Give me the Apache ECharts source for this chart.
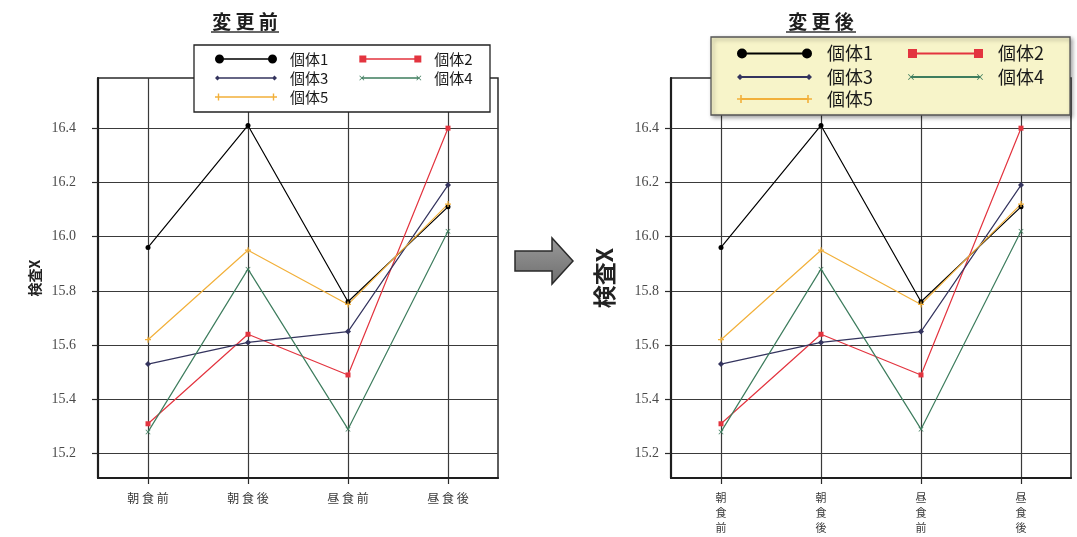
<!DOCTYPE html>
<html>
<head>
<meta charset="utf-8">
<script src="https://cdn.jsdelivr.net/npm/echarts@6/dist/echarts.min.js"></script>
<style>
  html, body { margin: 0; padding: 0; background: #ffffff; }
  #chart { width: 1077px; height: 537px; }
</style>
</head>
<body>
<div id="chart"></div>
<script>
// measurement points and individuals
const categories = ['朝食前', '朝食後', '昼食前', '昼食後'];
const seriesNames = ['個体1', '個体2', '個体3', '個体4', '個体5'];
const values1 = [15.96, 16.41, 15.76, 16.11];
const values2 = [15.31, 15.64, 15.49, 16.40];
const values3 = [15.53, 15.61, 15.65, 16.19];
const values4 = [15.28, 15.88, 15.29, 16.02];
const values5 = [15.62, 15.95, 15.75, 16.12];
const yTicks = [15.2, 15.4, 15.6, 15.8, 16.0, 16.2, 16.4];
const yMin = 15.11;
const yMax = 16.585;
const panelTitles = ['変 更 前', '変 更 後'];
const axisTitle = '検査X';

const allValues = [values1, values2, values3, values4, values5];
const colors = ['#000000', '#e3343f', '#34345e', '#3e7d5e', '#f2b03a'];
const markerKinds = ['circle', 'square', 'diamond', 'cross', 'plus'];
const CJK = '"Noto Sans CJK JP", "Noto Sans CJK SC", sans-serif';
const SERIF = '"Liberation Serif", "Times New Roman", "DejaVu Serif", serif';

// ---- marker / legend icon geometry (all sub-paths clockwise so they union) ----
function circleSub(cx, cy, r) {
  return `M${cx - r} ${cy} A${r} ${r} 0 1 1 ${cx + r} ${cy} A${r} ${r} 0 1 1 ${cx - r} ${cy} Z`;
}
function scaledUnit(points, cx, cy, s) {
  // points in a 10x10 unit box
  return 'M' + points.map(p => `${cx + (p[0] - 5) * s / 10} ${cy + (p[1] - 5) * s / 10}`).join(' L') + ' Z';
}
const CROSS_PTS = [[0,1],[1,0],[5,4],[9,0],[10,1],[6,5],[10,9],[9,10],[5,6],[1,10],[0,9],[4,5]];
const PLUS_PTS = [[4,0],[6,0],[6,4],[10,4],[10,6],[6,6],[6,10],[4,10],[4,6],[0,6],[0,4],[4,4]];
function markerSub(kind, cx, cy, s) {
  const h = s / 2;
  switch (kind) {
    case 'circle': return circleSub(cx, cy, h);
    case 'square': return `M${cx - h} ${cy - h} L${cx + h} ${cy - h} L${cx + h} ${cy + h} L${cx - h} ${cy + h} Z`;
    case 'diamond': return `M${cx} ${cy - h} L${cx + h} ${cy} L${cx} ${cy + h} L${cx - h} ${cy} Z`;
    case 'cross': return scaledUnit(CROSS_PTS, cx, cy, s);
    case 'plus': return scaledUnit(PLUS_PTS, cx, cy, s);
  }
}
// legend icon: line with a marker at each end, box W x H, line spanning 0..len
function legendIcon(kind, W, H, len, s, lw) {
  const cy = H / 2;
  const x0 = s / 2, x1 = len - s / 2;
  let d = `M0 0 M${W} ${H} `;
  d += `M${x0} ${cy - lw / 2} L${x1} ${cy - lw / 2} L${x1} ${cy + lw / 2} L${x0} ${cy + lw / 2} Z `;
  d += markerSub(kind, x0, cy, s) + ' ' + markerSub(kind, x1, cy, s);
  return 'path://' + d;
}
// plot symbols
const plotSymbols = [
  'circle', 'rect', 'diamond',
  'path://' + scaledUnit(CROSS_PTS, 5, 5, 10),
  'path://' + scaledUnit(PLUS_PTS, 5, 5, 10)
];
const plotSymbolSizes = [5, 5, 6, 5, 6];

// ---- panel layout ----
const panels = [
  {
    gridLeft: 98, yLabelMargin: 22, nameGap: 56, nameSize: 14, vertical: false,
    legend: { rows: [[0, 1], [2, 3], [4]], left: 215, tops: [51.5, 70.5, 89.5], W: 70, H: 12, len: 62,
      sizes: [9, 7, 5, 5, 7], lw: 1.4, font: 15, textWidth: 45, gap: 31 },
    box: { x: 194, y: 45, w: 296, h: 67, fill: '#ffffff', stroke: '#222222', shadow: 0 },
    title: { x: 245, line: [211, 279] }
  },
  {
    gridLeft: 671, yLabelMargin: 12, nameGap: 55, nameSize: 23, vertical: true,
    legend: { rows: [[0, 1], [2, 3], [4]], left: 737, tops: [44.5, 68, 90], W: 85, H: 14, len: 75,
      sizes: [10, 9, 6, 6, 8], lw: 2, font: 18, textWidth: 56, gap: 35 },
    box: { x: 711, y: 37, w: 359, h: 78, fill: '#f7f4c9', stroke: '#555555', shadow: 4 },
    title: { x: 821, line: [786, 856] }
  }
];

const option = {
  animation: false,
  backgroundColor: '#ffffff',
  grid: [], xAxis: [], yAxis: [], series: [], legend: [], graphic: []
};

panels.forEach((p, pi) => {
  option.grid.push({
    left: p.gridLeft, top: 78, width: 400, height: 400,
    show: true, borderColor: '#2a2a2a', borderWidth: 1.5, backgroundColor: 'transparent',
    outerBoundsMode: 'none', containLabel: false
  });
  option.xAxis.push({
    type: 'category', gridIndex: pi, data: categories, boundaryGap: true,
    axisLine: { show: true, lineStyle: { color: '#1e1e1e', width: 2.2 } },
    axisTick: { show: true, alignWithLabel: true, length: 6, lineStyle: { color: '#2a2a2a', width: 1.2 } },
    splitLine: { show: true, alignWithLabel: true, lineStyle: { color: '#3a3a3a', width: 1.2 } },
    axisLabel: {
      interval: 0, margin: p.vertical ? 12 : 13,
      fontFamily: CJK, fontSize: p.vertical ? 11 : 12, color: '#3a3a3a',
      lineHeight: p.vertical ? 15 : 14,
      formatter: v => p.vertical ? v.split('').join('\n') : v.split('').join(' ')
    }
  });
  option.yAxis.push({
    type: 'value', gridIndex: pi, min: yMin, max: yMax,
    axisLine: { show: true, lineStyle: { color: '#1e1e1e', width: 2.2 } },
    axisTick: { show: true, customValues: yTicks, length: 6, lineStyle: { color: '#2a2a2a', width: 1.2 } },
    splitLine: { show: true, lineStyle: { color: '#3a3a3a', width: 1.2 } },
    axisLabel: {
      customValues: yTicks, margin: p.yLabelMargin,
      fontFamily: SERIF, fontSize: 14, color: '#4a4a4a',
      formatter: v => Number(v).toFixed(1)
    },
    name: axisTitle, nameLocation: 'middle', nameRotate: 90, nameGap: p.nameGap,
    nameTextStyle: { fontFamily: CJK, fontSize: p.nameSize, fontWeight: 'bold', color: '#222222' }
  });
  allValues.forEach((vals, si) => {
    option.series.push({
      type: 'line', name: seriesNames[si], xAxisIndex: pi, yAxisIndex: pi, data: vals,
      symbol: plotSymbols[si], symbolSize: plotSymbolSizes[si], showSymbol: true,
      color: colors[si],
      lineStyle: { color: colors[si], width: 1.2 },
      itemStyle: { color: colors[si], borderWidth: 0 },
      z: 2
    });
  });
  // legend rows
  const L = p.legend;
  L.rows.forEach((row, ri) => {
    option.legend.push({
      orient: 'horizontal', left: L.left, top: L.tops[ri], padding: 0,
      itemWidth: L.W, itemHeight: L.H, itemGap: L.gap, symbolKeepAspect: true,
      data: row.map(si => ({
        name: seriesNames[si],
        icon: legendIcon(markerKinds[si], L.W, L.H, L.len, L.sizes[si], L.lw)
      })),
      itemStyle: { borderWidth: 0 },
      textStyle: { fontFamily: CJK, fontSize: L.font, color: '#1a1a1a', width: L.textWidth },
      selectedMode: false, z: 6
    });
  });
  // legend frame, title and underline
  option.graphic.push({
    type: 'rect', z: 5, silent: true,
    shape: { x: p.box.x, y: p.box.y, width: p.box.w, height: p.box.h },
    style: {
      fill: p.box.fill, stroke: p.box.stroke, lineWidth: 1.3,
      shadowBlur: p.box.shadow, shadowColor: 'rgba(0,0,0,0.35)',
      shadowOffsetX: p.box.shadow ? 2 : 0, shadowOffsetY: p.box.shadow ? 2 : 0
    }
  });
  option.graphic.push({
    type: 'text', z: 5, silent: true, x: p.title.x, y: 22,
    style: {
      text: panelTitles[pi], font: `bold 19px ${CJK}`, fill: '#1e1e1e',
      textAlign: 'center', textVerticalAlign: 'middle'
    }
  });
  option.graphic.push({
    type: 'line', z: 5, silent: true,
    shape: { x1: p.title.line[0], y1: 32, x2: p.title.line[1], y2: 32 },
    style: { stroke: '#333333', lineWidth: 1.5 }
  });
});

// block arrow between the panels
option.graphic.push({
  type: 'polygon', z: 5, silent: true,
  shape: { points: [[515, 251], [552, 251], [552, 238], [573, 261], [552, 284], [552, 271], [515, 271]] },
  style: {
    fill: new echarts.graphic.LinearGradient(0, 0, 0, 1, [
      { offset: 0, color: '#9a9a9a' }, { offset: 1, color: '#6e6e6e' }
    ]),
    stroke: '#2a2a2a', lineWidth: 1.5
  }
});

const chart = echarts.init(document.getElementById('chart'), null, { renderer: 'canvas' });
chart.setOption(option);
</script>
</body>
</html>
